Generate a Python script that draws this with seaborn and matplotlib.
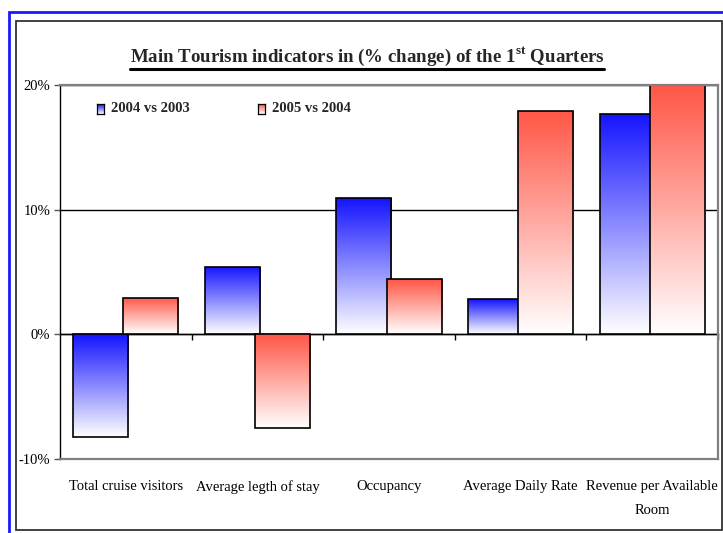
import numpy as np
import pandas as pd
import matplotlib
matplotlib.use("Agg")
import matplotlib.pyplot as plt
import seaborn as sns
from matplotlib.colors import LinearSegmentedColormap
from matplotlib.patches import Rectangle
from matplotlib.lines import Line2D

# ---- data ----
categories = ["Total cruise visitors", "Average legth of stay", "Occupancy",
              "Average Daily Rate", "Revenue per Available\nRoom"]
series_names = ["2004 vs 2003", "2005 vs 2004"]
v_2004_vs_2003 = [-8.2, 5.4, 10.9, 2.8, 17.7]
v_2005_vs_2004 = [2.9, -7.5, 4.4, 17.9, 20.0]
y_ticks = [-10, 0, 10, 20]
y_tick_labels = ["-10%", "0%", "10%", "20%"]
title_text = "Main Tourism indicators in (% change) of the 1$^{\\mathbf{st}}$ Quarters"

BLUE = "#1414ff"
RED = "#ff5646"

sns.set_theme(style="white")
plt.rcParams["font.family"] = ["Liberation Serif", "DejaVu Serif"]
plt.rcParams["mathtext.fontset"] = "custom"
plt.rcParams["mathtext.rm"] = "Liberation Serif"
plt.rcParams["mathtext.bf"] = "Liberation Serif:bold"

W, H = 723, 533
def fx(p): return p / W
def fy(p): return 1 - p / H

fig = plt.figure(figsize=(W / 100, H / 100), dpi=100)
fig.patch.set_facecolor("white")

ax = fig.add_axes([fx(60), fy(459), (718 - 60) / W, (459 - 85) / H])
ax.set_facecolor("white")

df = pd.DataFrame({
    "indicator": categories * 2,
    "period": [series_names[0]] * len(categories) + [series_names[1]] * len(categories),
    "change": v_2004_vs_2003 + v_2005_vs_2004,
})

sns.barplot(data=df, x="indicator", y="change", hue="period",
            order=categories, hue_order=series_names,
            palette=[BLUE, RED], saturation=1, width=0.8,
            errorbar=None, legend=False, ax=ax)

def make_cmap(c):
    return LinearSegmentedColormap.from_list("g", ["white", c])

grad = np.linspace(1, 0, 256).reshape(-1, 1)
bar_w = 0.418
for k, (cont, col) in enumerate(zip(ax.containers, [BLUE, RED])):
    for bar in cont:
        if k == 0:
            bar.set_width(bar_w)
        else:
            bar.set_x(bar.get_x() - (bar_w - 0.4))
            bar.set_width(bar_w)
        bb = bar.get_bbox()
        x0, x1 = bb.x0, bb.x1
        y0, y1 = min(bb.y0, bb.y1), max(bb.y0, bb.y1)
        im = ax.imshow(grad, cmap=make_cmap(col), extent=[x0, x1, y0, y1],
                       aspect="auto", origin="upper", zorder=2 + k * 0.2,
                       interpolation="bilinear")
        im.set_clip_path(bar)
        bar.set_facecolor("none")
        bar.set_edgecolor("black")
        bar.set_linewidth(1.2)
        bar.set_zorder(2.1 + k * 0.2)

ax.set_xlim(-0.5, len(categories) - 0.5)
ax.set_ylim(-10, 20)
ax.set_yticks(y_ticks, y_tick_labels)
ax.set_xticks(range(len(categories)), categories)
ax.set_xlabel("")
ax.set_ylabel("")
ax.grid(False)
ax.yaxis.grid(True, color="black", linewidth=1.0)
ax.set_axisbelow(True)

for s in ["top", "right", "bottom"]:
    ax.spines[s].set_color("#808080")
    ax.spines[s].set_linewidth(1.6)
ax.spines["left"].set_color("black")
ax.spines["left"].set_linewidth(1.0)

ax.tick_params(axis="y", direction="out", length=4, width=1, color="#555555",
               labelsize=10.5, pad=3, left=True, labelcolor="black")
ax.tick_params(axis="x", length=0, labelsize=10.5, pad=15, labelcolor="black")
for lbl in ax.get_xticklabels():
    lbl.set_linespacing(2.1)

# zero axis with tick marks at category boundaries
sec = ax.secondary_xaxis(1 / 3)
sec.set_xticks([i + 0.5 for i in range(len(categories))])
sec.set_xticklabels([])
sec.tick_params(direction="out", length=4, width=1, color="black")
sec.spines["bottom"].set_color("black")
sec.spines["bottom"].set_linewidth(1.0)

# legend
for i, (name, col) in enumerate(zip(series_names, [BLUE, RED])):
    mx = [97, 258][i]
    lax = fig.add_axes([fx(mx), fy(114), 7 / W, 10 / H])
    lax.imshow(grad, cmap=make_cmap(col), aspect="auto", origin="upper")
    lax.set_xticks([])
    lax.set_yticks([])
    for s in lax.spines.values():
        s.set_color("black")
        s.set_linewidth(0.9)
    fig.text(fx(mx + 14), fy(108.5), name, fontsize=10.5, fontweight="bold",
             va="center", ha="left")

# title with underline
t = fig.text(fx(367), fy(62), title_text, fontsize=13.6, fontweight="bold",
             ha="center", va="baseline")
fig.canvas.draw()
bb = t.get_window_extent(fig.canvas.get_renderer())
fig.add_artist(Line2D([bb.x0 / W, bb.x1 / W], [fy(68.5), fy(68.5)],
                      transform=fig.transFigure, color="black", linewidth=2.2))

# frames
fig.add_artist(Rectangle((fx(8.5), -0.1), 1.2, fy(12) + 0.1, transform=fig.transFigure,
                         fill=False, edgecolor="#1a1aff", linewidth=2.0))
fig.add_artist(Rectangle((fx(15.5), fy(530)), (722 - 15.5) / W, (530 - 20.5) / H,
                         transform=fig.transFigure, fill=False,
                         edgecolor="#333333", linewidth=1.3))

fig.savefig("out.png", dpi=100)
